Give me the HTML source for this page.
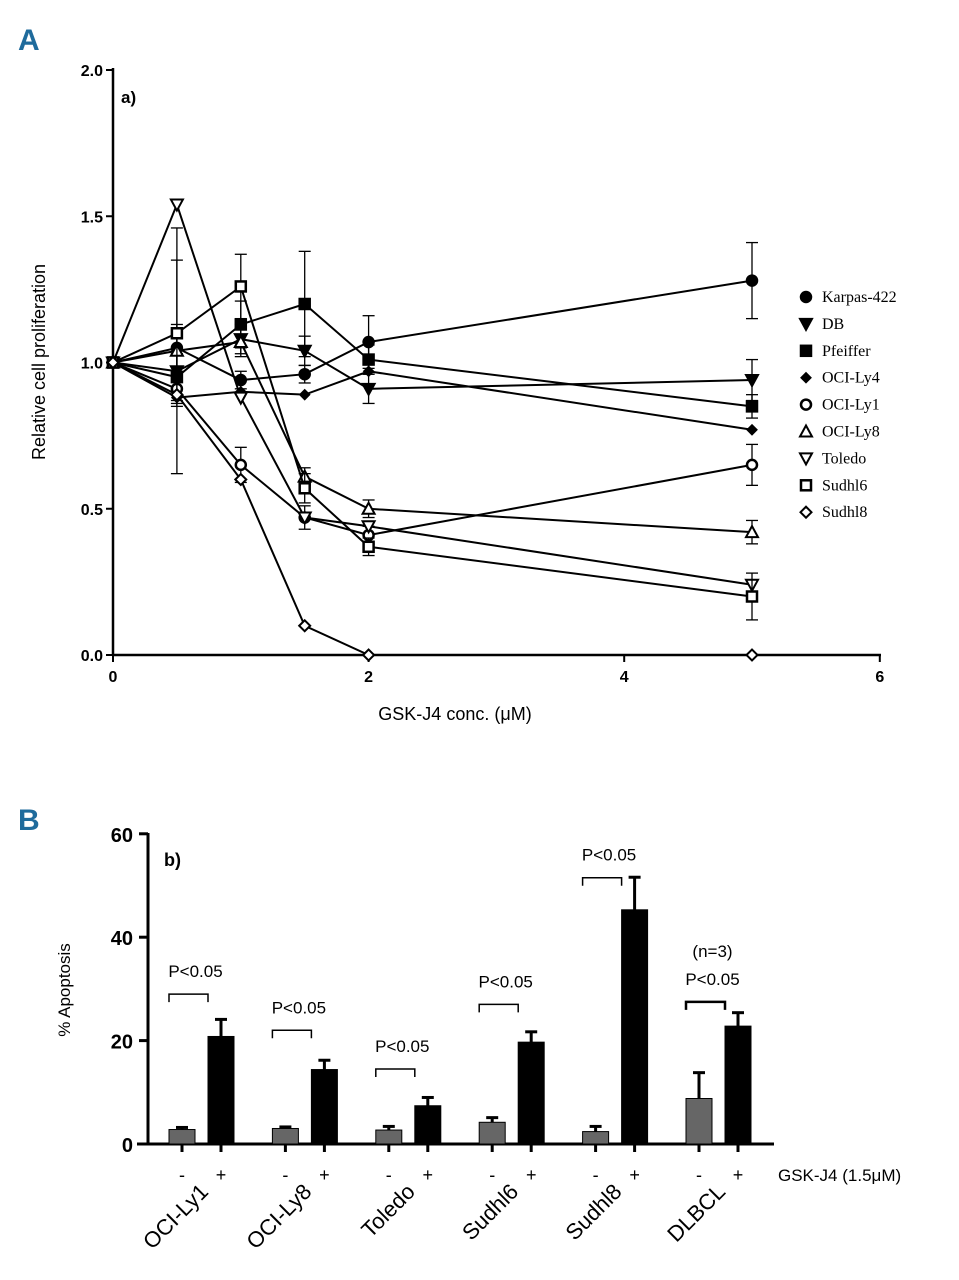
<!DOCTYPE html>
<html><head><meta charset="utf-8"><style>
body{margin:0;background:#fff;width:959px;height:1280px;overflow:hidden}
svg{display:block;font-family:"Liberation Sans",sans-serif}
</style></head><body>
<svg id="fig" width="959" height="1280">
<text x="18" y="50" font-size="30" font-weight="bold" fill="#1f6b9c">A</text>
<text x="18" y="830" font-size="30" font-weight="bold" fill="#1f6b9c">B</text>
<g id="ga"></g>
<g id="gb"></g>
</svg>
<script>
const xVals=[0,0.5,1,1.5,2,5];
const seriesNames=["Karpas-422","DB","Pfeiffer","OCI-Ly4","OCI-Ly1","OCI-Ly8","Toledo","Sudhl6","Sudhl8"];
const karpas=[1,1.05,0.94,0.96,1.07,1.28];
const db=[1,0.97,1.08,1.04,0.91,0.94];
const pfeiffer=[1,0.95,1.13,1.20,1.01,0.85];
const ociLy4=[1,0.88,0.90,0.89,0.97,0.77];
const ociLy1=[1,0.91,0.65,0.47,0.41,0.65];
const ociLy8=[1,1.04,1.07,0.61,0.50,0.42];
const toledo=[1,1.54,0.88,0.47,0.44,0.24];
const sudhl6=[1,1.10,1.26,0.57,0.37,0.20];
const sudhl8=[1,0.89,0.60,0.10,0.0,0.0];
const errKarpas=[0,0.08,0.03,0.03,0.09,0.13];
const errToledo=[0,0.42,0.05,0.03,0.03,0.04];
const errPfeiffer=[0,0.08,0.08,0.18,0.05,0.04];
const errSudhl6=[0,0.25,0.11,0.05,0.03,0.08];
const errDb=[0,0.06,0.05,0.05,0.05,0.07];
const errOciLy1=[0,0.05,0.06,0.04,0.03,0.07];
const yTicksA=[0,0.5,1.0,1.5,2.0];
const xTicksA=[0,2,4,6];
const shapes=["circle","tridown","square","diamondS","ocircle","otri","otridown","osquare","odiamond"];

const categories=["OCI-Ly1","OCI-Ly8","Toledo","Sudhl6","Sudhl8","DLBCL"];
const ctrlVals=[2.8,3.0,2.7,4.2,2.4,8.8];
const ctrlErr=[0.4,0.3,0.7,0.9,1.0,5.0];
const gskVals=[20.8,14.4,7.4,19.7,45.3,22.8];
const gskErr=[3.3,1.8,1.6,2.0,6.3,2.6];
const bracketVals=[29,22,14.5,27,51.5,27.5];
const yTicksB=[0,20,40,60];

const NS="http://www.w3.org/2000/svg";
function mk(p,t,a){const e=document.createElementNS(NS,t);for(const k in a)e.setAttribute(k,a[k]);p.appendChild(e);return e;}
const ga=document.getElementById('ga'),gb=document.getElementById('gb');
const xA=v=>113+v*127.8, yA=v=>655-v*292.5;
let e=mk(ga,'line',{x1:113,y1:68,x2:113,y2:656,stroke:'#000','stroke-width':2.5});

e=mk(ga,'line',{x1:112,y1:655,x2:881,y2:655,stroke:'#000','stroke-width':2.5});

yTicksA.forEach(v=>{mk(ga,'line',{x1:106,x2:113,y1:yA(v),y2:yA(v),stroke:'#000','stroke-width':2});
 e=mk(ga,'text',{x:103,y:yA(v)+6,'text-anchor':'end','font-size':16,'font-weight':'bold'});e.textContent=v.toFixed(1);
 });
xTicksA.forEach(v=>{mk(ga,'line',{x1:xA(v),x2:xA(v),y1:655,y2:662,stroke:'#000','stroke-width':2});
 e=mk(ga,'text',{x:xA(v),y:682,'text-anchor':'middle','font-size':16,'font-weight':'bold'});e.textContent=v;
 });
e=mk(ga,'text',{x:121,y:103,'font-size':17,'font-weight':'bold'});e.textContent='a)';

e=mk(ga,'text',{x:455,y:720,'text-anchor':'middle','font-size':18});e.textContent='GSK-J4 conc. (μM)';

e=mk(ga,'text',{x:45,y:362,'text-anchor':'middle','font-size':18,transform:'rotate(-90 45 362)'});e.textContent='Relative cell proliferation';

const allSeries=[karpas,db,pfeiffer,ociLy4,ociLy1,ociLy8,toledo,sudhl6,sudhl8];
const errs={0:errKarpas,1:errDb,2:errPfeiffer,5:errToledo,7:errSudhl6,4:errOciLy1};
function marker(g,s,x,y){
 const f=s[0]==='o'?'#fff':'#000';let m;
 if(s.endsWith('circle'))m=mk(g,'circle',{cx:x,cy:y,r:5,fill:f,stroke:'#000','stroke-width':2.5});
 else if(s.endsWith('square'))m=mk(g,'rect',{x:x-5,y:y-5,width:10,height:10,fill:f,stroke:'#000','stroke-width':2.5});
 else if(s.endsWith('tridown'))m=mk(g,'polygon',{points:`${x-6},${y-5} ${x+6},${y-5} ${x},${y+6}`,fill:f,stroke:'#000','stroke-width':2});
 else if(s.endsWith('tri'))m=mk(g,'polygon',{points:`${x-6},${y+5} ${x+6},${y+5} ${x},${y-6}`,fill:f,stroke:'#000','stroke-width':2});
 else {const r=s==='diamondS'?4.5:5.5;m=mk(g,'polygon',{points:`${x-r},${y} ${x},${y-r} ${x+r},${y} ${x},${y+r}`,fill:f,stroke:'#000','stroke-width':2});}
 return m;}
allSeries.forEach((arr,i)=>{
 const g=mk(ga,'g',{});
 
 
 if(errs[i])arr.forEach((v,j)=>{const d=errs[i][j];if(!d)return;const x=xA(xVals[j]);
  mk(g,'line',{x1:x,x2:x,y1:yA(v-d),y2:yA(v+d),stroke:'#000','stroke-width':1.3});
  [v-d,v+d].forEach(w=>mk(g,'line',{x1:x-6,x2:x+6,y1:yA(w),y2:yA(w),stroke:'#000','stroke-width':1.3}));});
 mk(g,'polyline',{points:arr.map((v,j)=>xA(xVals[j])+','+yA(v)).join(' '),fill:'none',stroke:'#000','stroke-width':2});
 arr.forEach((v,j)=>{const m=marker(g,shapes[i],xA(xVals[j]),yA(v));
  });
 const ly=297+i*26.9;
 const lm=marker(g,shapes[i],806,ly);
 const t=mk(g,'text',{x:822,y:ly+5,'font-size':16,'font-family':'Liberation Serif,serif'});t.textContent=seriesNames[i];
 
});
const yB=v=>1144-v*5.17, grpX=i=>182+i*103.4;
e=mk(gb,'line',{x1:148,y1:833,x2:148,y2:1145,stroke:'#000','stroke-width':3});

e=mk(gb,'line',{x1:137,y1:1144,x2:774,y2:1144,stroke:'#000','stroke-width':3});

yTicksB.forEach(v=>{mk(gb,'line',{x1:139,x2:148,y1:yB(v),y2:yB(v),stroke:'#000','stroke-width':3});
 e=mk(gb,'text',{x:133,y:yB(v)+8,'text-anchor':'end','font-size':20,'font-weight':'bold'});e.textContent=v;
 });
e=mk(gb,'text',{x:164,y:866,'font-size':18,'font-weight':'bold'});e.textContent='b)';

e=mk(gb,'text',{x:70,y:990,'text-anchor':'middle','font-size':17,transform:'rotate(-90 70 990)'});e.textContent='% Apoptosis';

categories.forEach((c,i)=>{
 const gx=grpX(i),bx=gx+39;
 [[gx,ctrlVals[i],ctrlErr[i],'#666','-'],[bx,gskVals[i],gskErr[i],'#000','+']].forEach(([x,v,d,col,s],k)=>{
  mk(gb,'line',{x1:x,x2:x,y1:yB(v),y2:yB(v+d),stroke:'#000','stroke-width':3});
  mk(gb,'line',{x1:x-6,x2:x+6,y1:yB(v+d),y2:yB(v+d),stroke:'#000','stroke-width':3});
  const r=mk(gb,'rect',{x:x-13,y:yB(v),width:26,height:1144-yB(v),fill:col,stroke:'#000','stroke-width':1});
  
  
  mk(gb,'line',{x1:x,x2:x,y1:1144,y2:1152,stroke:'#000','stroke-width':3});
  const t=mk(gb,'text',{x:x,y:1181,'text-anchor':'middle','font-size':18});t.textContent=s;
  
 });
 const by=yB(bracketVals[i]);
 const br=mk(gb,'polyline',{points:`${gx-13},${by+8} ${gx-13},${by} ${bx-13},${by} ${bx-13},${by+8}`,fill:'none',stroke:'#000','stroke-width':1.5});
 if(i===5)br.setAttribute('stroke-width',2.5);
 
 const pt=mk(gb,'text',{x:(gx+bx)/2-6,y:by-17,'text-anchor':'middle','font-size':17});pt.textContent='P<0.05';
 
 if(i===5){const nt=mk(gb,'text',{x:(gx+bx)/2-6,y:by-45,'text-anchor':'middle','font-size':17});nt.textContent='(n=3)';
  }
 const lx=(gx+bx)/2+8,ly=1193;
 const ct=mk(gb,'text',{x:lx,y:ly,'text-anchor':'end','font-size':22,transform:`rotate(-45 ${lx} ${ly})`});ct.textContent=c;
 
});
e=mk(gb,'text',{x:778,y:1181,'font-size':17});e.textContent='GSK-J4 (1.5μM)';

</script>
</body></html>
